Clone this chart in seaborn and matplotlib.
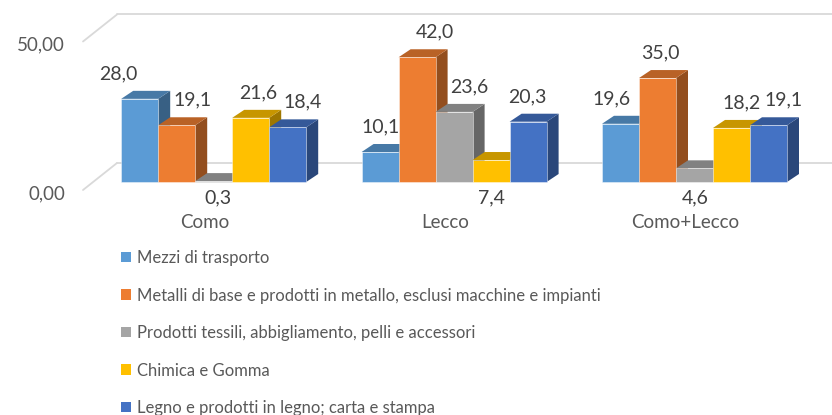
import numpy as np
import pandas as pd
import matplotlib.pyplot as plt
import matplotlib.colors as mcolors
from matplotlib.patches import Polygon, Patch
import seaborn as sns

# dati
aree = ["Como", "Lecco", "Como+Lecco"]
settori = [
    "Mezzi di trasporto",
    "Metalli di base e prodotti in metallo, esclusi macchine e impianti",
    "Prodotti tessili, abbigliamento, pelli e accessori",
    "Chimica e Gomma",
    "Legno e prodotti in legno; carta e stampa",
]
mezzi = [28.0, 10.1, 19.6]
metalli = [19.1, 42.0, 35.0]
tessili = [0.3, 23.6, 4.6]
chimica = [21.6, 7.4, 18.2]
legno = [18.4, 20.3, 19.1]
colori = ["#5B9BD5", "#ED7D31", "#A5A5A5", "#FFC000", "#4472C4"]
assi = [0, 50]

df = pd.DataFrame({
    "area": aree * 5,
    "settore": np.repeat(settori, len(aree)),
    "valore": mezzi + metalli + tessili + chimica + legno,
})

# spostamento orizzontale delle etichette (px), come in Excel
label_dx = [[-21, 16, 4, 8, 15],
            [0, 18, 15, 0, -1],
            [-9, 3, 1, 10, 15]]

W, H = 832, 415
PX_X = 240.4   # px per categoria
PX_Y = 2.97    # px per unità
X0 = 213.7     # px centro di "Como"
Y0 = 182       # px (dall'alto) della base frontale


def dx(p):
    return p / PX_X


def dy(p):
    return p / PX_Y


def shade(c, f):
    r, g, b, a = mcolors.to_rgba(c)
    return (r * f, g * f, b * f, a)


sns.set_style("white")
plt.rcParams["font.family"] = ["Lato", "DejaVu Sans"]

fig = plt.figure(figsize=(W / 100, H / 100), dpi=100)
ax = fig.add_axes([0, 0, 1, 1])
sns.barplot(data=df, x="area", y="valore", hue="settore", palette=colori,
            width=185 / PX_X, saturation=1, legend=False, ax=ax,
            edgecolor=(1, 1, 1, 0.5), linewidth=0.6)
ax.set_xlim(-X0 / PX_X, (W - X0) / PX_X)
ax.set_ylim(-(H - Y0) / PX_Y, Y0 / PX_Y)
ax.axis("off")

DX, DY = dx(12), dy(8)
grid = "#D9D9D9"
wall_x = dx(117 - X0)
wall_y = dy(19)
diag_x = dx(83 - X0)
for v in assi:
    ax.plot([wall_x, (W - X0) / PX_X], [v + wall_y] * 2, color=grid, lw=1.3, zorder=1)
    ax.plot([diag_x, wall_x], [v - DY, v + wall_y], color=grid, lw=1.3, zorder=1)
    ax.text(diag_x - dx(18), v - DY - dy(3.5), f"{v:.2f}".replace(".", ","),
            ha="right", va="center", fontsize=13.5, color="#595959")

# barre 3D: fronte di seaborn + tetto e fianco
bars = sorted(ax.patches, key=lambda p: p.get_x())
for i, b in enumerate(bars):
    x, w, h = b.get_x(), b.get_width(), b.get_height()
    fc = b.get_facecolor()
    z = 2 + i * 0.01
    ax.add_patch(Polygon([(x + w, 0), (x + w + DX, DY), (x + w + DX, h + DY), (x + w, h)],
                         closed=True, fc=shade(fc, 0.62), ec="none", zorder=z))
    ax.add_patch(Polygon([(x, h), (x + w, h), (x + w + DX, h + DY), (x + DX, h + DY)],
                         closed=True, fc=shade(fc, 0.78), ec="none", zorder=z))
    b.set_zorder(z + 0.005)
    cat, k = divmod(i, len(settori))
    y = -dy(16) if h < 8 else h + dy(25)
    ax.text(x + w / 2 + dx(label_dx[cat][k]), y, f"{h:.1f}".replace(".", ","),
            ha="center", va="center", fontsize=14, color="#404040", zorder=10)

for c, a in enumerate(aree):
    ax.text(c - dx(9), -dy(40), a, ha="center", va="center", fontsize=13.5, color="#595959")

handles = [Patch(facecolor=c, edgecolor="none", label=s) for c, s in zip(colori, settori)]
ax.legend(handles=handles, loc="upper left", bbox_to_anchor=(121 / W, 1 - 250 / H),
          frameon=False, fontsize=12, handlelength=0.6, handleheight=0.6,
          handletextpad=0.35, labelspacing=1.29, borderpad=0, borderaxespad=0,
          labelcolor="#595959")

fig.savefig("out.png", dpi=100)
